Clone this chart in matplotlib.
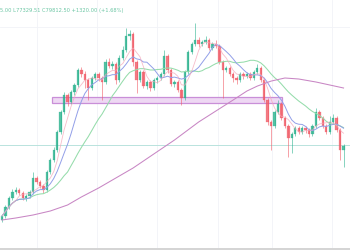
import matplotlib
matplotlib.use('Agg')
from matplotlib import pyplot as plt
from matplotlib.patches import Rectangle
import pandas as pd


# candle data (price, oldest first)
first_open = 70930
closes = [
    71410, 72490, 73570, 74290, 74530, 74170, 73570, 73810, 74290, 75970,
    75490, 75010, 74530, 76690, 78130, 79330, 81490, 83890, 85930, 85090,
    86290, 87130, 88930, 88450, 87730, 86770, 87970, 88450, 87970, 87490,
    89890, 89410, 89650, 87730, 90370, 91330, 93010, 93250, 89890, 87730,
    88690, 87010, 87490, 86770, 87730, 87970, 88450, 90610, 88930, 87250,
    87490, 86530, 85570, 88690, 91090, 92050, 92530, 92050, 92290, 92530,
    91570, 92050, 91810, 89890, 88930, 89170, 88450, 87970, 87730, 88450,
    88210, 88450, 87970, 88690, 89170, 87730, 85330, 82690, 82210, 83890,
    84850, 83170, 82210, 80770, 81250, 81970, 81490, 81970, 81730, 81250,
    82210, 83890, 83170, 82210, 81490, 82690, 83170, 81730, 79330, 79812.5,
]
highs = [
    71650, 72730, 73810, 74650, 74890, 74770, 74410, 74050, 74530, 76690,
    76210, 75730, 75250, 76930, 78370, 79690, 81730, 84130, 86290, 86170,
    86530, 87370, 89170, 89290, 88810, 87970, 88210, 88690, 88690, 88210,
    90250, 90370, 90010, 89890, 90730, 91810, 93970, 93730, 93490, 90130,
    88930, 88930, 87730, 87730, 87970, 88210, 88690, 91330, 90850, 89170,
    87730, 87730, 86770, 88930, 91330, 92290, 94570, 92890, 92530, 93010,
    92770, 92290, 92530, 92050, 90130, 89410, 89410, 88690, 88210, 88690,
    88690, 88690, 88690, 88930, 89650, 89410, 87970, 85570, 82930, 84130,
    85330, 85090, 83410, 82450, 81490, 82210, 82210, 82210, 82210, 81970,
    82450, 84370, 84130, 83410, 82450, 83410, 83650, 83410, 81970, 80050,
]
lows = [
    70690, 71170, 72250, 73330, 74050, 73930, 73330, 73210, 73570, 74050,
    75250, 74770, 74170, 74290, 76450, 77890, 79090, 81250, 83650, 84610,
    84850, 85930, 86890, 88090, 86770, 85330, 86530, 87730, 87610, 85330,
    87250, 89170, 89050, 87250, 87490, 90130, 91090, 92530, 89410, 86170,
    87490, 86770, 86650, 86410, 86530, 87370, 87730, 88210, 88570, 87010,
    86890, 86290, 84730, 85330, 88450, 90850, 91810, 91690, 91810, 92050,
    91330, 91330, 91570, 89650, 85570, 88690, 88210, 87490, 87250, 87490,
    87850, 87970, 87730, 87730, 88450, 87490, 85090, 82330, 79330, 81970,
    83650, 82930, 81970, 78490, 78970, 81010, 81250, 81250, 81370, 80890,
    81010, 81970, 82930, 81970, 81250, 81250, 82450, 81490, 78130, 77329.51,
]

# long moving average, read at a few candles
long_ma_idx = [0, 4, 9, 14, 19, 23, 28, 33, 38, 44, 50,
               57, 62, 67, 71, 74, 78, 82, 86, 91, 95, 99]
long_ma_val = [70930, 71170, 71530, 72010, 72730, 73690, 74770, 75970,
               77170, 78850, 80530, 82690, 84010, 85330, 86410, 87000,
               87600, 87970, 87850, 87490, 87130, 86770]

# support zone drawn on the chart
zone_start, zone_end = 14.5, 81.2
zone_low, zone_high = 84970, 85690

legend_text = '5.00 L77329.51 C79812.50 +1320.00 (+1.68%)'

UP = '#2bb28e'
DOWN = '#f05a66'

fig = plt.figure(figsize=(3.5, 2.5), dpi=100)
ax = fig.add_axes([0, 0, 1, 1])
ax.set_xlim(-0.58, 100.87)
ax.set_ylim(67330, 97330)
ax.axis('off')

# faint grid
for gx in [10.1, 27.5, 44.9, 62.6, 78.3, 95.6]:
    ax.axvline(gx, color='#f1f3f7', lw=0.6, zorder=0)
ax.axhline(94090, color='#f1f3f7', lw=0.6, zorder=0)

# bottom time axis strip
ax.axhspan(67330, 67630, color='#d5d5d5', lw=0, zorder=0)

# last price line
ax.axhline(closes[-1] + 60, color='#b9e3dd', lw=0.7, zorder=1)

# zone
ax.add_patch(Rectangle((zone_start, zone_low), zone_end - zone_start,
                       zone_high - zone_low, facecolor='#eed8f3',
                       edgecolor='#c98fd8', lw=0.9, zorder=2))

opens = [first_open] + closes[:-1]
for i, (o, h, l, c) in enumerate(zip(opens, highs, lows, closes)):
    col = UP if c >= o else DOWN
    ax.vlines(i, l, h, color=col, lw=0.5, alpha=0.8, zorder=3)
    ax.add_patch(Rectangle((i - 0.34, min(o, c)), 0.68,
                           max(abs(c - o), 60), facecolor=col,
                           edgecolor=col, lw=0.2, alpha=0.8, zorder=4))

close_s = pd.Series(closes)
idx = range(len(closes))
ax.plot(idx, close_s.rolling(20, min_periods=1).mean(),
        color='#95dcab', lw=0.75, zorder=5)
ax.plot(idx, close_s.rolling(9, min_periods=1).mean(),
        color='#929fe8', lw=0.7, zorder=5)
ax.plot(idx, close_s.rolling(5, min_periods=1).mean(),
        color='#f4a6b8', lw=0.6, alpha=0.75, zorder=5)
ax.plot(long_ma_idx, long_ma_val, color='#c886c4', lw=0.75, zorder=5)

fig.text(0.0, 0.958, legend_text, fontsize=3.7, color='#6cc6a4',
         ha='left', va='center')

plt.savefig('out.png', dpi=100)
